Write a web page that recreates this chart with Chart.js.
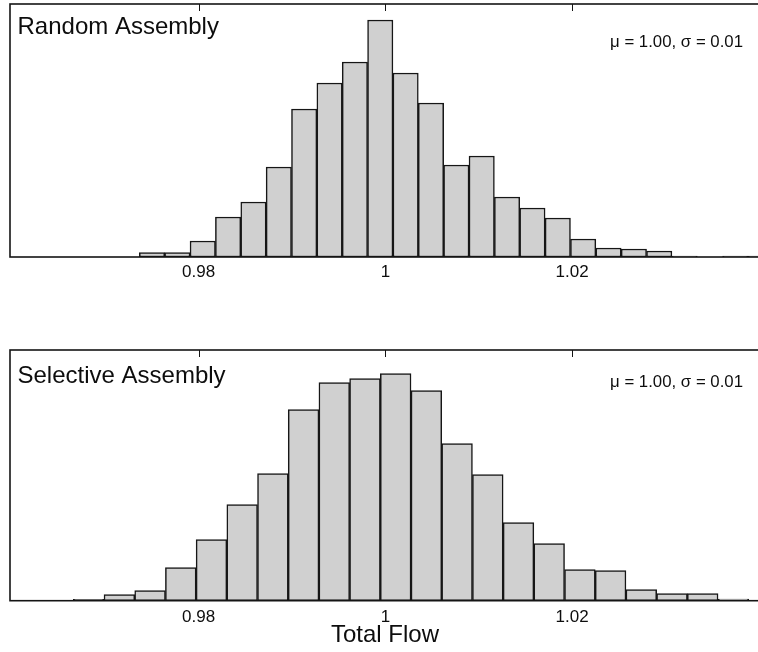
<!DOCTYPE html>
<html>
<head>
<meta charset="utf-8">
<script src="https://cdn.jsdelivr.net/npm/chart.js@4.4.1/dist/chart.umd.min.js"></script>
<style>
  html, body { margin: 0; padding: 0; background: #fff; }
  body { width: 758px; height: 652px; position: relative; overflow: hidden; }
  .panel { position: absolute; left: 0; width: 770px; }
  #random-panel { top: 0; height: 290px; }
  #selective-panel { top: 300px; height: 352px; }
</style>
</head>
<body>
<div class="panel" id="random-panel"><canvas id="randomChart"></canvas></div>
<div class="panel" id="selective-panel"><canvas id="selectiveChart"></canvas></div>
<script>
// histogram bins: left edge of the first bin and bin width, in flow units
const randomBinStart = 0.97365;
const randomBinWidth = 0.002716;
const randomCounts = [4.5, 4.5, 16, 40, 55, 90, 148, 174, 195, 237, 184, 154, 92, 101, 60, 49, 39, 18, 9, 8, 6, 1, 0, 1, 1];

const selectiveBinStart = 0.96658;
const selectiveBinWidth = 0.003288;
const selectiveCounts = [1.3, 6, 10, 33, 61, 96, 127, 191, 218, 222, 227, 210, 157, 126, 78, 57, 31, 30, 11, 7, 7, 1.5];

const tickValues = [0.98, 1, 1.02];
const tickLabels = ['0.98', '1', '1.02'];
const statsLabel = 'μ = 1.00, σ = 0.01';

const FONT = "'Liberation Sans', Arial, Helvetica, sans-serif";

// box around the plot, inward ticks on the top edge, panel title and stats
const framePlugin = {
    id: 'frame',
    afterDatasetsDraw(chart, args, opts) {
        const { ctx, chartArea: a, scales: { x } } = chart;
        ctx.save();
        ctx.strokeStyle = '#141414';
        ctx.lineWidth = 1.6;
        ctx.strokeRect(a.left, a.top, a.right - a.left, a.bottom - a.top);
        ctx.beginPath();
        tickValues.forEach(v => {
            const px = Math.round(x.getPixelForValue(v)) + 0.5;
            ctx.moveTo(px, a.top);
            ctx.lineTo(px, a.top + 7);
        });
        ctx.lineWidth = 1;
        ctx.stroke();

        ctx.fillStyle = '#0d0d0d';
        ctx.textBaseline = 'alphabetic';
        ctx.textAlign = 'left';
        ctx.font = `24px ${FONT}`;
        ctx.fillText(opts.title, a.left + 7.5, a.top + opts.titleBase);
        ctx.textAlign = 'right';
        ctx.font = `16.8px ${FONT}`;
        ctx.fillText(statsLabel, 743, a.top + opts.statsBase);
        ctx.restore();
    }
};

function drawHistogram(canvasId, binStart, binWidth, counts, cfg) {
    const points = counts.map((c, i) => ({ x: binStart + binWidth * (i + 0.5), y: c }));
    return new Chart(document.getElementById(canvasId), {
        type: 'bar',
        data: {
            datasets: [{
                data: points,
                backgroundColor: '#d0d0d0',
                borderColor: '#161616',
                borderWidth: 1.5,
                borderSkipped: false,
                categoryPercentage: 1,
                barPercentage: 1
            }]
        },
        options: {
            responsive: true,
            maintainAspectRatio: false,
            animation: false,
            layout: { padding: { left: 10, right: 10, top: cfg.padTop, bottom: cfg.padBottom } },
            plugins: {
                legend: { display: false },
                tooltip: { enabled: false },
                frame: { title: cfg.title, titleBase: cfg.titleBase, statsBase: cfg.statsBase }
            },
            scales: {
                x: {
                    type: 'linear',
                    min: 0.9598,
                    max: 1.04012,
                    bounds: 'data',
                    offset: false,
                    grid: { display: false, drawTicks: false, offset: false },
                    border: { display: false },
                    afterBuildTicks: axis => { axis.ticks = tickValues.map(v => ({ value: v })); },
                    afterFit: axis => { axis.height = cfg.axisHeight; },
                    ticks: {
                        padding: cfg.tickPad,
                        color: '#0d0d0d',
                        font: { family: FONT, size: 17 },
                        maxRotation: 0,
                        autoSkip: false,
                        callback: (v, i) => tickLabels[i]
                    },
                    title: {
                        display: !!cfg.xTitle,
                        text: cfg.xTitle || '',
                        color: '#0d0d0d',
                        font: { family: FONT, size: 24 },
                        padding: { top: 0, bottom: 0 }
                    }
                },
                y: { display: false, min: 0, max: cfg.yMax }
            }
        },
        plugins: [framePlugin]
    });
}

drawHistogram('randomChart', randomBinStart, randomBinWidth, randomCounts, {
    title: 'Random Assembly', titleBase: 30.3, statsBase: 42.7,
    padTop: 4, padBottom: 0, axisHeight: 33, tickPad: 4.7, yMax: 253
});

drawHistogram('selectiveChart', selectiveBinStart, selectiveBinWidth, selectiveCounts, {
    title: 'Selective Assembly', titleBase: 33.3, statsBase: 36.7,
    padTop: 50, padBottom: 2.7, axisHeight: 48.6, tickPad: 6.5, yMax: 250.7,
    xTitle: 'Total Flow'
});
</script>
</body>
</html>
